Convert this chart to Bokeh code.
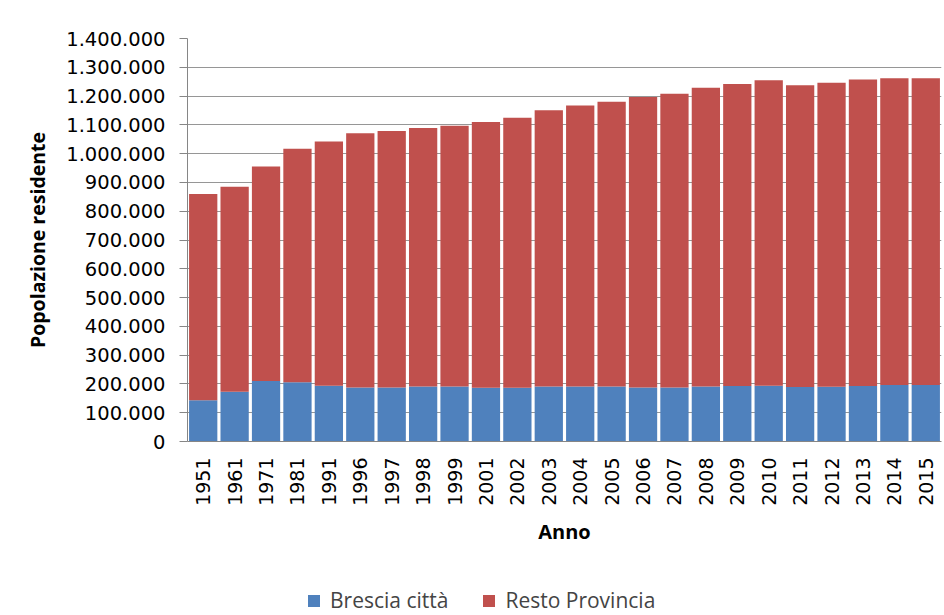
import math
from bokeh.plotting import figure
from bokeh.layouts import column
from bokeh.models import FactorRange, Range1d, FixedTicker, Legend, LegendItem
from bokeh.embed import file_html
from bokeh.resources import INLINE

anni = ["1951", "1961", "1971", "1981", "1991", "1996", "1997", "1998", "1999",
        "2001", "2002", "2003", "2004", "2005", "2006", "2007", "2008", "2009",
        "2010", "2011", "2012", "2013", "2014", "2015"]
brescia_citta = [143000, 173000, 210000, 206000, 194000, 188000, 188000, 191000, 191000,
                 187000, 187000, 191000, 191000, 191000, 188000, 188000, 191000, 193000,
                 194000, 189000, 190000, 193000, 196000, 196000]
resto_provincia = [717000, 712000, 745000, 811000, 848000, 883000, 891000, 898000, 906000,
                   923000, 938000, 960000, 976000, 989000, 1009000, 1020000, 1038000, 1049000,
                   1061000, 1049000, 1056000, 1065000, 1066000, 1066000]
y_ticks = [0, 100000, 200000, 300000, 400000, 500000, 600000, 700000, 800000,
           900000, 1000000, 1100000, 1200000, 1300000, 1400000]
y_tick_labels = ["0", "100.000", "200.000", "300.000", "400.000", "500.000", "600.000",
                 "700.000", "800.000", "900.000", "1.000.000", "1.100.000", "1.200.000",
                 "1.300.000", "1.400.000"]
serie = ["Brescia città", "Resto Provincia"]
colori = ["#4F81BD", "#C0504D"]

source = dict(anni=anni, b=brescia_citta, r=resto_provincia)

p = figure(x_range=FactorRange(*anni, range_padding=0), y_range=Range1d(0, 1400000),
           frame_width=754, frame_height=403, output_backend="svg", toolbar_location=None,
           min_border_left=187, min_border_right=2, min_border_top=38, min_border_bottom=110)

rs = p.vbar_stack(["b", "r"], x="anni", width=0.9, color=colori, line_color=None,
                  source=source)

p.outline_line_color = None
p.xgrid.grid_line_color = None
p.ygrid.grid_line_color = "#969696"
p.ygrid.grid_line_width = 1

p.yaxis.ticker = FixedTicker(ticks=y_ticks)
p.yaxis.major_label_overrides = {t: l for t, l in zip(y_ticks, y_tick_labels)}
p.yaxis.minor_tick_line_color = None
p.yaxis.major_tick_in = 0
p.yaxis.major_tick_out = 8
p.yaxis.axis_line_color = "#868686"
p.yaxis.major_tick_line_color = "#868686"
p.yaxis.major_label_text_font = "DejaVu Sans"
p.yaxis.major_label_text_font_size = "19.5px"
p.yaxis.major_label_text_color = "#000000"
p.yaxis.major_label_standoff = 14
p.yaxis.axis_label = "Popolazione residente"
p.yaxis.axis_label_text_font = "Open Sans"
p.yaxis.axis_label_text_font_style = "bold"
p.yaxis.axis_label_text_font_size = "19.5px"
p.yaxis.axis_label_text_color = "#000000"
p.yaxis.axis_label_standoff = 12

p.xaxis.major_label_orientation = math.pi / 2
p.xaxis.major_tick_in = 0
p.xaxis.major_tick_out = 0
p.xaxis.axis_line_color = "#868686"
p.xaxis.major_label_text_font = "DejaVu Sans"
p.xaxis.major_label_text_font_size = "19px"
p.xaxis.major_label_text_color = "#000000"
p.xaxis.major_label_standoff = 16
p.xaxis.axis_label = "Anno"
p.xaxis.axis_label_text_font = "Open Sans"
p.xaxis.axis_label_text_font_style = "bold"
p.xaxis.axis_label_text_font_size = "20px"
p.xaxis.axis_label_text_color = "#000000"
p.xaxis.axis_label_standoff = 9

# legend strip below the chart (its stacked bars lie outside its visible range)
p2 = figure(x_range=FactorRange(*anni, range_padding=0), y_range=Range1d(2000000, 3000000),
            width=943, height=63, output_backend="svg", toolbar_location=None,
            x_axis_location=None, y_axis_location=None,
            min_border_left=0, min_border_right=0, min_border_top=0, min_border_bottom=0)
p2.outline_line_color = None
p2.xgrid.grid_line_color = None
p2.ygrid.grid_line_color = None
leg_r = p2.vbar_stack(["b", "r"], x="anni", width=0.9, color=colori, line_color=None,
                      source=source)

legend = Legend(items=[LegendItem(label=serie[i], renderers=[leg_r[i]]) for i in range(2)],
                orientation="horizontal", location=(119, 0),
                label_text_font="Open Sans", label_text_font_size="21px",
                glyph_width=15, glyph_height=15, spacing=33, label_standoff=9,
                border_line_color=None, background_fill_alpha=0, padding=0, margin=0)
p2.add_layout(legend)

layout = column(p, p2, spacing=0)
open("out.html", "w").write(file_html(layout, INLINE))
